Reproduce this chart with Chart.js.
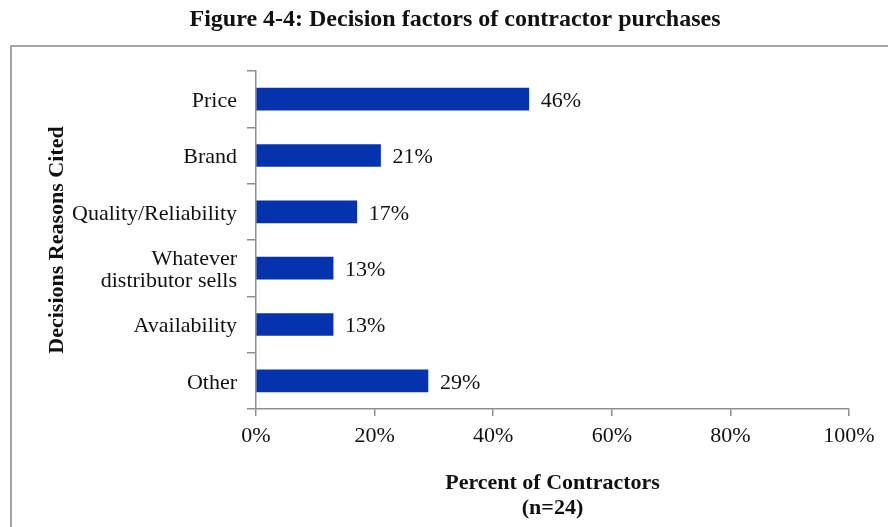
<!DOCTYPE html>
<html>
<head>
<meta charset="utf-8">
<script src="https://cdn.jsdelivr.net/npm/chart.js@4"></script>
<style>
  html, body { margin: 0; padding: 0; background: #fff; }
  #wrap { position: relative; width: 888px; height: 527px; overflow: hidden; }
  #frame { position: absolute; left: 10px; top: 45px; width: 900px; height: 520px; border: 2px solid #a6a6a6; }
  #chart { position: absolute; left: 0; top: 0; }
</style>
</head>
<body>
<div id="wrap">
  <div id="frame"></div>
  <canvas id="chart" width="888" height="527"></canvas>
</div>
<script>
// Данные графика
const categories = ['Price', 'Brand', 'Quality/Reliability', ['Whatever', 'distributor sells'], 'Availability', 'Other'];
const percents = [46, 21, 17, 13, 13, 29];
const xTicks = [0, 20, 40, 60, 80, 100];
const chartTitle = 'Figure 4-4: Decision factors of contractor purchases';

const serif = '"Liberation Serif", "Times New Roman", serif';
const axisGray = '#8f8f8f';

// Заголовок над рамкой (смещён вправо, как в оригинале)
const figureTitle = {
    id: 'figureTitle',
    afterDraw(chart) {
        const ctx = chart.ctx;
        ctx.save();
        ctx.font = 'bold 24px ' + serif;
        ctx.fillStyle = '#111';
        ctx.textAlign = 'center';
        ctx.textBaseline = 'middle';
        ctx.fillText(chartTitle, 455, 20);
        ctx.restore();
    }
};

// Подписи значений справа от столбцов
const valueLabels = {
    id: 'valueLabels',
    afterDatasetsDraw(chart) {
        const ctx = chart.ctx;
        const meta = chart.getDatasetMeta(0);
        ctx.save();
        ctx.font = '22px ' + serif;
        ctx.fillStyle = '#111';
        ctx.textAlign = 'left';
        ctx.textBaseline = 'middle';
        meta.data.forEach((bar, i) => {
            ctx.fillText(percents[i] + '%', bar.x + 12, bar.y + 2);
        });
        ctx.restore();
    }
};

new Chart(document.getElementById('chart').getContext('2d'), {
    type: 'bar',
    data: {
        labels: categories,
        datasets: [{
            data: percents,
            backgroundColor: '#0533ae',
            borderWidth: 0,
            barThickness: 22
        }]
    },
    options: {
        indexAxis: 'y',
        responsive: false,
        animation: false,
        layout: { padding: { left: 0, right: 39, top: 71, bottom: 0 } },
        plugins: {
            legend: { display: false },
            tooltip: { enabled: false },
            title: { display: false }
        },
        scales: {
            x: {
                min: 0,
                max: 100,
                afterBuildTicks: (scale) => { scale.ticks = xTicks.map(v => ({ value: v })); },
                afterFit: (scale) => { scale.height = 118; },
                border: { color: axisGray, width: 1.5 },
                grid: { drawOnChartArea: false, drawTicks: true, tickLength: 7, color: axisGray, lineWidth: 1.5 },
                ticks: {
                    color: '#111',
                    padding: 7,
                    font: { family: serif, size: 22 },
                    callback: (v) => v + '%'
                },
                title: {
                    display: true,
                    text: ['Percent of Contractors', '(n=24)'],
                    color: '#111',
                    font: { family: serif, size: 22, weight: 'bold', lineHeight: 1.14 },
                    padding: { top: 0, bottom: 6 }
                }
            },
            y: {
                afterFit: (scale) => { scale.width = 256; },
                border: { color: axisGray, width: 1.5 },
                grid: { offset: true, drawOnChartArea: false, drawTicks: true, tickLength: 9, color: axisGray, lineWidth: 1.5 },
                ticks: {
                    color: '#111',
                    padding: 10,
                    labelOffset: 2,
                    font: { family: serif, size: 22, lineHeight: 1.0 }
                },
                title: {
                    display: true,
                    text: 'Decisions Reasons Cited',
                    color: '#111',
                    font: { family: serif, size: 22, weight: 'bold', lineHeight: 1.2 },
                    padding: { top: 44, bottom: 0 }
                }
            }
        }
    },
    plugins: [valueLabels, figureTitle]
});
</script>
</body>
</html>
